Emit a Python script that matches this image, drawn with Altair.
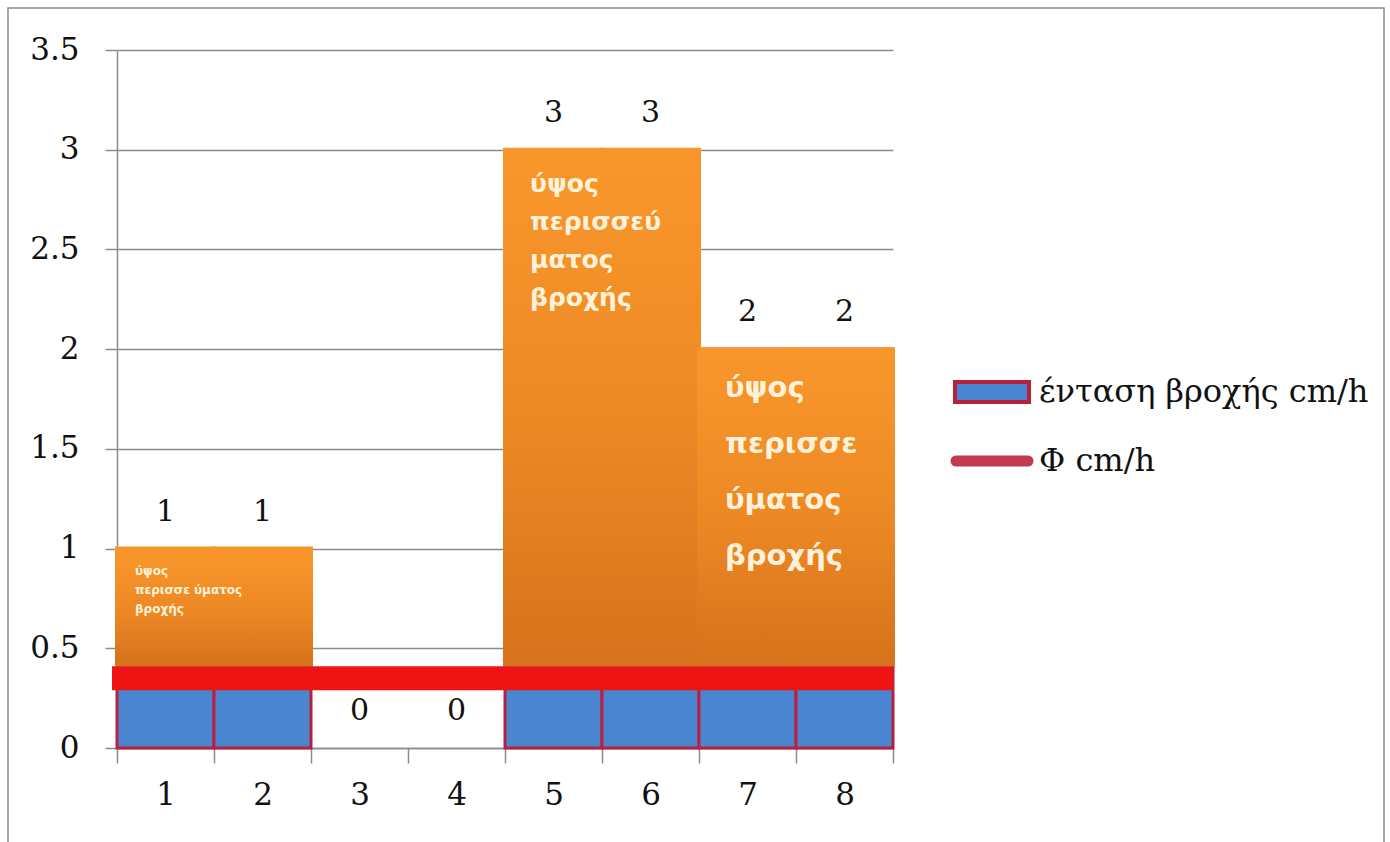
import altair as alt
import pandas as pd

# Rainfall intensity per time step (cm/h) and the infiltration index Φ
categories = [1, 2, 3, 4, 5, 6, 7, 8]
intensity = [1, 1, 0, 0, 3, 3, 2, 2]
phi = 0.35
excess_floor = 0.42
y_ticks = [0, 0.5, 1, 1.5, 2, 2.5, 3, 3.5]

# Rainfall-excess annotation blocks
block_start = [1, 5, 7]
block_top = [1, 3, 2]
block_lines = [
    ["ύψος", "περισσε ύματος", "βροχής"],
    ["ύψος", "περισσεύ", "ματος", "βροχής"],
    ["ύψος", "περισσε", "ύματος", "βροχής"],
]
block_font = [12, 25, 29]
block_lh = [19, 38, 56]
block_dx = [18, 25, 26]
block_dy = [17, 22, 25]

legend_labels = ["ένταση βροχής cm/h", "Φ cm/h"]

W, H = 776, 698
PAD = {"left": 117, "top": 50, "right": 1390 - 117 - W, "bottom": 842 - 50 - H}

df = pd.DataFrame({"t": categories, "i": intensity})
df["excess_floor"] = excess_floor

x_enc = alt.X(
    "t:O",
    title=None,
    scale=alt.Scale(paddingInner=0, paddingOuter=0),
    axis=alt.Axis(
        labelAngle=0, tickBand="extent", tickSize=15, tickColor="#8C8C8C",
        tickWidth=1.5, domainColor="#8C8C8C", domainWidth=1.5,
        labelFont="DejaVu Serif", labelFontSize=31, labelColor="#111111",
        labelPadding=17, grid=False,
    ),
)
y_scale = alt.Scale(domain=[0, 3.5], nice=False)
y_enc = alt.Y(
    "i:Q",
    title=None,
    scale=y_scale,
    axis=alt.Axis(
        values=y_ticks, labelExpr="datum.value", tickSize=12,
        tickColor="#8C8C8C", tickWidth=1.5, domainColor="#8C8C8C",
        domainWidth=1.5, gridColor="#8C8C8C", gridWidth=1.5,
        labelFont="DejaVu Serif", labelFontSize=31, labelColor="#111111",
        labelPadding=26,
    ),
)

base = alt.Chart(df)

bars = base.mark_bar(
    fill="#4A86CF", stroke="#B8203F", strokeWidth=3
).encode(x=x_enc, y=y_enc).transform_filter("datum.i > 0")

phi_line = alt.Chart(pd.DataFrame({"phi": [phi]})).mark_rule(
    color="#EE1414", strokeWidth=24
).encode(
    y=alt.Y("phi:Q", scale=y_scale),
    x=alt.value(-5),
    x2=alt.value(W),
)

orange = alt.Gradient(
    gradient="linear",
    stops=[
        alt.GradientStop(color="#F9962B", offset=0),
        alt.GradientStop(color="#EE8A25", offset=0.5),
        alt.GradientStop(color="#D6731C", offset=1),
    ],
    x1=0, x2=0, y1=0, y2=1,
)
excess = base.mark_rect(color=orange, stroke=orange, strokeWidth=4).encode(
    x=alt.X("t:O"),
    y=alt.Y("excess_floor:Q", scale=y_scale),
    y2="i:Q",
).transform_filter(f"datum.i > {phi}")

value_labels = base.mark_text(
    font="DejaVu Serif", fontSize=30, color="#111111", baseline="middle", dy=-37
).encode(x=alt.X("t:O"), y=alt.Y("i:Q", scale=y_scale), text="i:Q")

layers = [bars, phi_line, excess, value_labels]

for s, top, lines, fs, lh, dx, dy in zip(
    block_start, block_top, block_lines, block_font, block_lh, block_dx, block_dy
):
    bd = pd.DataFrame({"t": [s], "top": [top], "label": ["\n".join(lines)]})
    layers.append(
        alt.Chart(bd).mark_text(
            font="DejaVu Sans", fontWeight="bold", fontSize=fs, lineHeight=lh,
            lineBreak="\n", color="#FFF2D9", align="left", baseline="top",
            dx=dx, dy=dy,
        ).encode(
            x=alt.X("t:O", bandPosition=0),
            y=alt.Y("top:Q", scale=y_scale),
            text="label:N",
        )
    )

# Legend, drawn to the right of the plot
leg = pd.DataFrame({"label": legend_labels})
first = alt.datum.label == legend_labels[0]
second = alt.datum.label == legend_labels[1]
leg_box = alt.Chart(leg).transform_filter(first).mark_rect(
    fill="#4A86CF", stroke="#B8203F", strokeWidth=4
).encode(x=alt.value(838), x2=alt.value(912), y=alt.value(332), y2=alt.value(352))
leg_line = alt.Chart(leg).transform_filter(second).mark_rule(
    color="#C23A4E", strokeWidth=11, strokeCap="round"
).encode(x=alt.value(839), x2=alt.value(911), y=alt.value(411))
leg_text1 = alt.Chart(leg).transform_filter(first).mark_text(
    font="DejaVu Serif", fontSize=32, color="#111111", align="left", baseline="middle"
).encode(x=alt.value(922), y=alt.value(342), text="label:N")
leg_text2 = alt.Chart(leg).transform_filter(second).mark_text(
    font="DejaVu Serif", fontSize=32, color="#111111", align="left", baseline="middle"
).encode(x=alt.value(922), y=alt.value(411), text="label:N")

frame = alt.Chart(leg).transform_filter(first).mark_rect(
    fill=None, stroke="#8A8A8A", strokeWidth=1.5
).encode(x=alt.value(-109), x2=alt.value(1267), y=alt.value(-42), y2=alt.value(800))

layers += [leg_box, leg_line, leg_text1, leg_text2, frame]

chart = alt.layer(*layers).properties(
    width=W,
    height=H,
    padding=PAD,
    autosize=alt.AutoSizeParams(type="none"),
    background="white",
).configure_view(stroke=None)

chart.save("out.html", embed_options={"renderer": "svg", "actions": False})
